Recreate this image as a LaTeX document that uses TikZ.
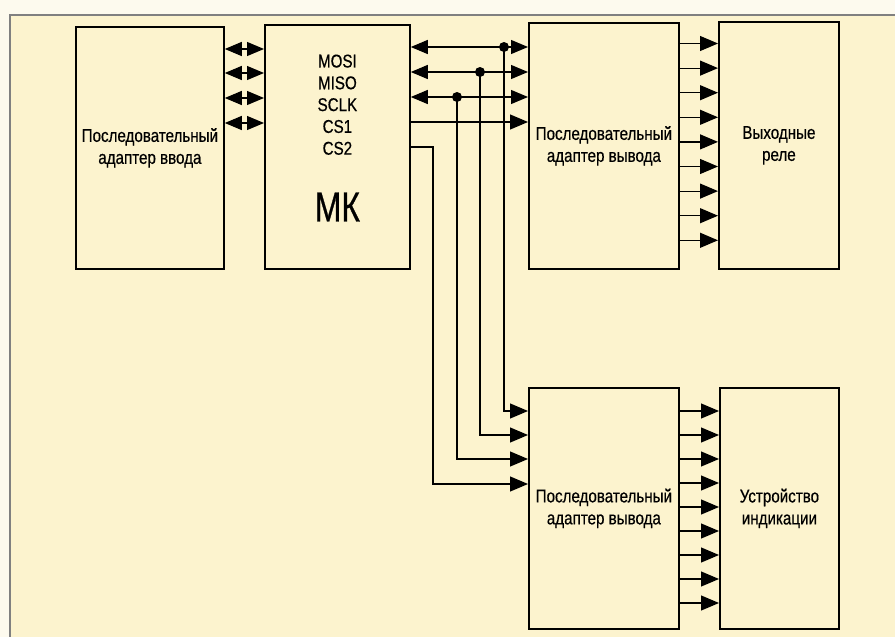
\documentclass[tikz,border=0pt]{standalone}
\usepackage{fontspec}
\setmainfont{Liberation Sans}[FakeStretch=0.82,FakeBold=0.5]
\newfontfamily\mkfont{Liberation Sans}[FakeStretch=0.76,FakeBold=0.6]
\usetikzlibrary{arrows.meta,calc}
\definecolor{paper}{RGB}{252,243,206}
\definecolor{margin}{RGB}{253,250,238}
\definecolor{framegray}{RGB}{128,128,128}
\begin{document}
\begin{tikzpicture}[x=1pt,y=-1pt,
  blk/.style={draw,line width=1.8pt,inner sep=0pt,anchor=north west,align=center,font=\fontsize{18.5}{22}\selectfont},
  sig/.style={inner sep=0pt,font=\fontsize{18.5}{22}\selectfont},
  wire/.style={line width=1.2pt},
  fw/.style={wire,-{Triangle[length=18pt,width=15pt]}},
  bi/.style={wire,{Triangle[length=17pt,width=14pt]}-{Triangle[length=17pt,width=14pt]}}]
\useasboundingbox (0,0) rectangle (895,637);
\fill[margin] (0,0) rectangle (895,637);
\fill[paper] (10,15) rectangle (895,637);
\draw[framegray,line width=2pt] (10,637) -- (10,15) -- (895,15);
\node[blk,minimum width=148,minimum height=242] (inp) at (75,26) {Последовательный\\адаптер ввода};
\node[blk,minimum width=145,minimum height=244] (mk) at (264,24) {};
\node[blk,minimum width=150,minimum height=246] (outa) at (528,22) {Последовательный\\адаптер вывода};
\node[blk,minimum width=120,minimum height=247] (rel) at (718,21) {Выходные\\реле};
\node[blk,minimum width=150,minimum height=241] (outb) at (528,387) {Последовательный\\адаптер вывода};
\node[blk,minimum width=119,minimum height=241] (ind) at (719,387) {Устройство\\индикации};
\foreach \s [count=\i] in {MOSI,MISO,SCLK,CS1,CS2}
  \node[sig] (lbl\i) at ($(mk.north)+(0,15.3+21.8*\i)$) {\s};
\node[inner sep=0pt,font=\mkfont\fontsize{42}{42}\selectfont] (mkname) at ($(mk.north)+(0,183)$) {МК};
\foreach \yy in {49,73,98,123}
  \draw[bi] (inp.east |- 0,\yy) -- (mk.west |- 0,\yy);
\coordinate (dmosi) at (504,47);
\coordinate (dmiso) at (480,72);
\coordinate (dsclk) at (457,97);
\coordinate (tcs1) at (470,122);
\coordinate (tcs2) at (433,147);
\draw[bi] (mk.east |- dmosi) -- (outa.west |- dmosi);
\draw[bi] (mk.east |- dmiso) -- (outa.west |- dmiso);
\draw[bi] (mk.east |- dsclk) -- (outa.west |- dsclk);
\draw[fw] (mk.east |- tcs1) -- (outa.west |- tcs1);
\draw[fw] (dmosi) |- (outb.west |- 0,411);
\draw[fw] (dmiso) |- (outb.west |- 0,435);
\draw[fw] (dsclk) |- (outb.west |- 0,459);
\draw[fw] (mk.east |- tcs2) -- (tcs2) |- (outb.west |- 0,484);
\foreach \c in {dmosi,dmiso,dsclk}
  \fill (\c) circle[radius=5pt];
\foreach \i [evaluate=\i as \yy using 43.5+24.6*\i] in {0,...,8}
  \draw[fw] (outa.east |- 0,\yy) -- (rel.west |- 0,\yy);
\foreach \i [evaluate=\i as \yy using 411+24*\i] in {0,...,8}
  \draw[fw] (outb.east |- 0,\yy) -- (ind.west |- 0,\yy);
\end{tikzpicture}
\end{document}
